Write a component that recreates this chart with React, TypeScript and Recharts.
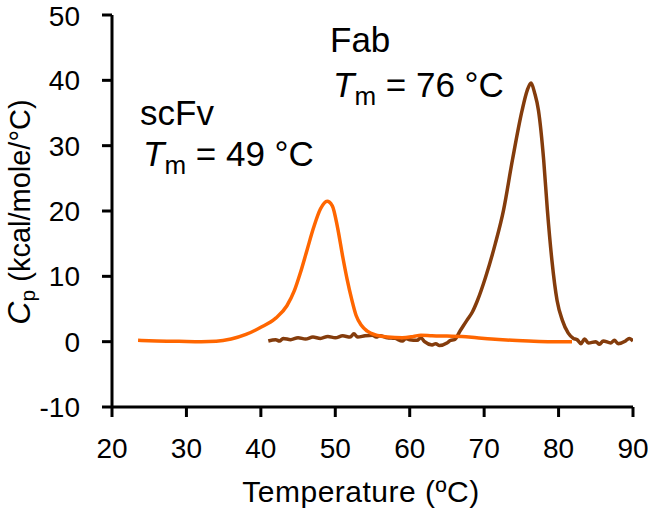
import { LineChart, Line, XAxis, YAxis } from "recharts";

// scFv trace (orange)
const scfvTemp = [
  23.5, 26, 29, 32, 34, 36, 38, 40, 42, 43.5, 44.5, 45.3, 46.2, 47.1, 48, 48.9,
  49.6, 50.3, 51, 51.6, 52.2, 52.8, 53.5, 54.3, 55.5, 57, 59, 60.5, 61.5, 63, 65,
  67, 69, 71, 73, 76, 79, 81.8,
];
const scfvCp = [
  0.2, 0.1, 0.05, 0.0, 0.05, 0.4, 1.1, 2.2, 3.6, 5.5, 7.8, 10.5, 14, 17.5, 20.3,
  21.5, 20.8, 17.5, 13, 9.5, 6.5, 4, 2.5, 1.6, 1.0, 0.7, 0.6, 0.8, 1.0, 0.9, 0.85,
  0.8, 0.6, 0.4, 0.25, 0.1, 0.0, 0.0,
];

// Fab trace (brown)
const fabTemp = [
  41, 42, 42.5, 43, 44, 45, 46, 47, 48, 49, 50, 51, 52, 52.5, 53, 54, 55, 55.5,
  56, 57, 58, 59, 59.5, 60, 61, 61.5, 62, 63, 63.5, 64, 65, 65.5, 66, 66.8, 67.7,
  68.4, 69.1, 70.2, 71.5, 72.6, 73.8, 75.1, 75.8, 76.3, 76.8, 77.3, 78, 78.5,
  79.1, 79.8, 80.5, 81.3, 82, 82.5, 83, 83.5, 84, 85, 85.5, 86, 87, 87.5, 88, 89,
  89.5, 90,
];
const fabCp = [
  0.1, 0.3, 0.1, 0.5, 0.3, 0.6, 0.4, 0.7, 0.5, 0.8, 0.6, 0.9, 0.7, 1.2, 0.7, 0.9,
  1.0, 0.7, 0.9, 0.6, 0.5, 0.1, 0.5, 0.3, 0.2, 0.6, 0.0, -0.5, -0.3, -0.6, -0.2,
  0.2, 0.3, 1.7, 3.3, 4.5, 6.3, 9.9, 15, 20.1, 27.8, 35.4, 38.5, 39.6, 38, 35.4,
  27.8, 20.1, 12.5, 6.3, 3.3, 1.3, 0.5, 0.3, -0.3, 0.4, -0.2, 0.0, -0.4, 0.1,
  -0.2, 0.2, -0.3, 0.1, 0.5, 0.1,
];

const xTicks = [20, 30, 40, 50, 60, 70, 80, 90];
const yTicks = [-10, 0, 10, 20, 30, 40, 50];

const FONT = '"Liberation Sans", Arial, sans-serif';
const ORANGE = "#ff6600";
const BROWN = "#843c0c";

const scfvData = scfvTemp.map((t, i) => ({ t, cp: scfvCp[i] }));
const fabData = fabTemp.map((t, i) => ({ t, cp: fabCp[i] }));

function TmLabel({ x, y, value }: { x: number; y: number; value: string }) {
  return (
    <text x={x} y={y} fontSize={35} fontFamily={FONT} fill="#000">
      <tspan fontStyle="italic">T</tspan>
      <tspan fontSize={26} dy={8}>m</tspan>
      <tspan dy={-8}>{` = ${value} °C`}</tspan>
    </text>
  );
}

export default function App() {
  const tickStyle = { fontSize: 28, fontFamily: FONT, fill: "#000" };
  const axisLine = { stroke: "#000", strokeWidth: 3 };

  return (
    <div style={{ position: "absolute", left: 0, top: 0, background: "#fff" }}>
      <LineChart
        width={648}
        height={512}
        margin={{ top: 15, right: 15, bottom: 0, left: 0 }}
      >
        <XAxis
          dataKey="t"
          type="number"
          domain={[20, 90]}
          ticks={xTicks}
          allowDataOverflow
          tick={tickStyle}
          tickSize={10}
          tickMargin={21}
          axisLine={axisLine}
          tickLine={axisLine}
          height={105}
        />
        <YAxis
          dataKey="cp"
          type="number"
          domain={[-10, 50]}
          ticks={yTicks}
          tick={tickStyle}
          tickSize={10}
          tickMargin={22}
          axisLine={axisLine}
          tickLine={axisLine}
          width={112}
        />
        <Line
          data={fabData}
          dataKey="cp"
          type="monotone"
          stroke={BROWN}
          strokeWidth={3.5}
          dot={false}
          isAnimationActive={false}
        />
        <Line
          data={scfvData}
          dataKey="cp"
          type="monotone"
          stroke={ORANGE}
          strokeWidth={3.5}
          dot={false}
          isAnimationActive={false}
        />
        <g>
          <text x={330} y={52} fontSize={35} fontFamily={FONT} fill="#000">
            Fab
          </text>
          <TmLabel x={333} y={97} value="76" />
          <text x={140} y={125} fontSize={35} fontFamily={FONT} fill="#000">
            scFv
          </text>
          <TmLabel x={143} y={166} value="49" />
          <text
            x={361}
            y={502}
            fontSize={30}
            fontFamily={FONT}
            fill="#000"
            textAnchor="middle"
            letterSpacing={0.5}
          >
            Temperature (ºC)
          </text>
          <text
            transform="translate(30 212) rotate(-90)"
            x={0}
            y={0}
            fontSize={29}
            fontFamily={FONT}
            fill="#000"
            textAnchor="middle"
          >
            <tspan fontStyle="italic" fontSize={32}>C</tspan>
            <tspan fontSize={21} dy={5}>p</tspan>
            <tspan dy={-5}> (kcal/mole/°C)</tspan>
          </text>
        </g>
      </LineChart>
    </div>
  );
}
